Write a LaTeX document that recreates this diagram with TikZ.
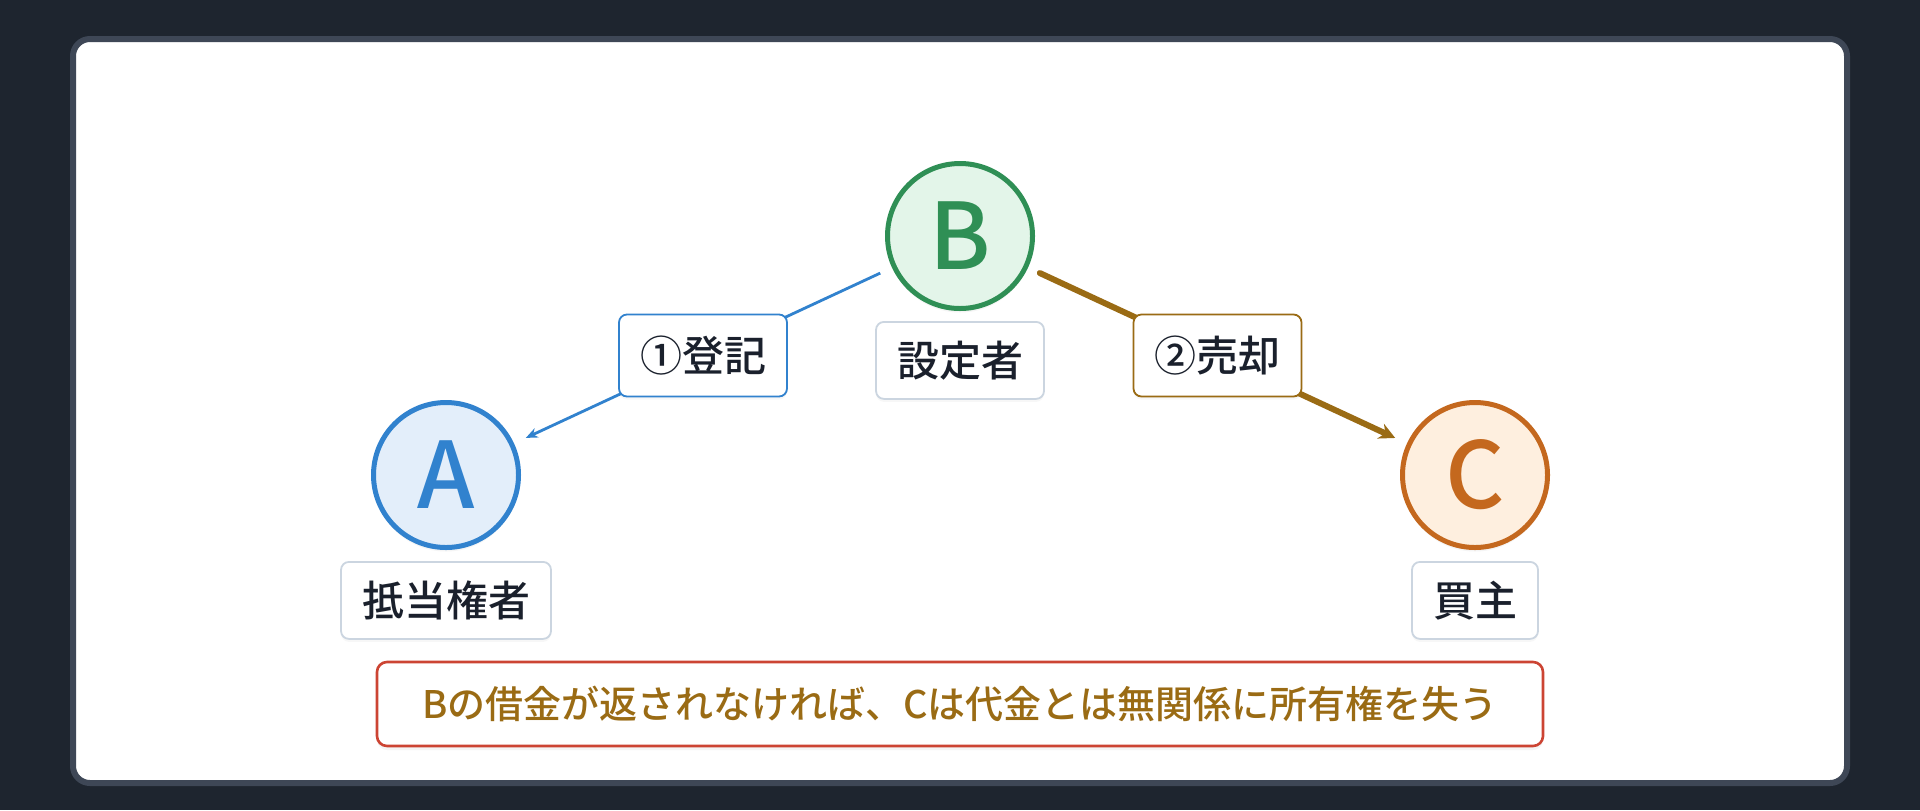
\documentclass[tikz,border=0pt]{standalone}
\usepackage{fontspec}
\setmainfont{Noto Sans CJK JP Medium}
\usetikzlibrary{positioning,arrows.meta,shadows}

\definecolor{pagebg}{HTML}{1E252F}
\definecolor{cardline}{HTML}{3E4756}
\definecolor{ink}{HTML}{1A202C}
\definecolor{boxline}{HTML}{CBD5E0}
\definecolor{ablue}{HTML}{3182CE}
\definecolor{afill}{HTML}{E3EEFA}
\definecolor{bgreen}{HTML}{2F8F55}
\definecolor{bfill}{HTML}{E3F5E9}
\definecolor{corange}{HTML}{C4681E}
\definecolor{cfill}{HTML}{FEEFDF}
\definecolor{olive}{HTML}{9A6B14}
\definecolor{notered}{HTML}{CC4433}

\tikzset{
  party/.style={circle, minimum size=72.5pt, inner sep=0pt, line width=2.5pt,
    font=\fontsize{46}{46}\selectfont,
    drop shadow={shadow xshift=0pt, shadow yshift=-2pt, opacity=0.08}},
  rolebox/.style={draw=boxline, fill=white, rounded corners=4pt, line width=0.9pt,
    minimum height=38.5pt, inner xsep=10.5pt, inner ysep=0pt, text=ink,
    font=\fontsize{21}{21}\selectfont,
    drop shadow={shadow xshift=0pt, shadow yshift=-1.5pt, opacity=0.06}},
  actbox/.style={rolebox, minimum height=41pt},
}

\begin{document}
\begin{tikzpicture}[x=0.5pt,y=-0.5pt]

	% background and card
	\useasboundingbox[fill=pagebg] (0,0) rectangle (1920,810);
	\draw[fill=white, draw=cardline, line width=3pt, rounded corners=8.5pt] (73,39) rectangle (1847,783);

	% parties
	\node[party, draw=bgreen, fill=bfill, text=bgreen] (nodeB) at (960,236) {B};
	\node[party, draw=ablue, fill=afill, text=ablue] (nodeA) at (446,475) {A};
	\node[party, draw=corange, fill=cfill, text=corange] (nodeC) at (1475,475) {C};

	% roles
	\node[rolebox, below=5pt of nodeB] (roleB) {設定者};
	\node[rolebox, below=5.5pt of nodeA] (roleA) {抵当権者};
	\node[rolebox, below=5.5pt of nodeC] (roleC) {買主};

	% registration
	\draw[ablue, line width=1.4pt, -{Stealth[length=6pt, width=5pt]},
		shorten <=6.5pt, shorten >=6.5pt] (nodeB) -- node[actbox, draw=ablue] (stepReg) {①登記} (nodeA);

	% sale
	\draw[olive, line width=3pt, line cap=round, -{Stealth[length=8pt, width=8pt]},
		shorten <=6.5pt, shorten >=6.5pt] (nodeB) -- node[actbox, draw=olive] (stepSale) {②売却} (nodeC);

	% note
	\node[draw=notered, fill=white, line width=1.3pt, rounded corners=5pt,
		minimum width=583pt, minimum height=42pt, text=olive,
		font=\fontsize{19}{19}\selectfont,
		drop shadow={shadow xshift=0pt, shadow yshift=-2pt, opacity=0.08}]
		(note) at (960,704) {Bの借金が返されなければ、Cは代金とは無関係に所有権を失う};

\end{tikzpicture}
\end{document}
